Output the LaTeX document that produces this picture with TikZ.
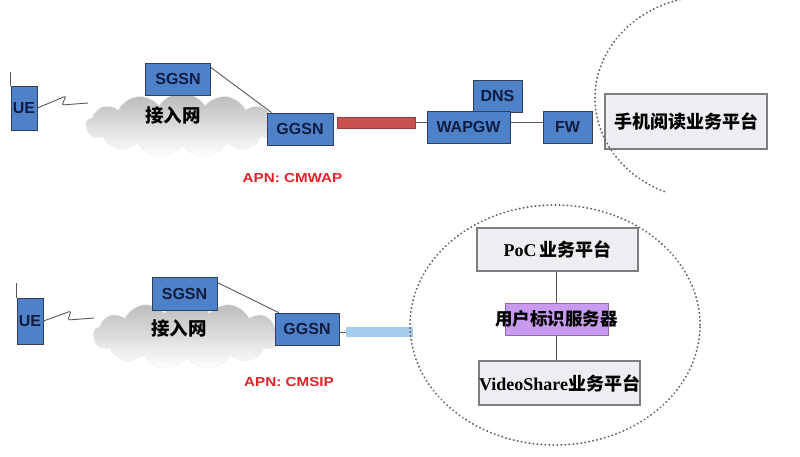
\documentclass[tikz,border=0pt]{standalone}
\usepackage{fontspec}
\setmainfont{Liberation Serif}
\setsansfont{Liberation Sans}
\newfontfamily\cjk{Noto Sans CJK SC}
\usetikzlibrary{shapes.symbols,calc}
\definecolor{boxblue}{RGB}{79,129,201}
\definecolor{boxtext}{RGB}{16,28,64}
\definecolor{boxline}{RGB}{50,62,90}
\definecolor{platfill}{RGB}{239,237,242}
\definecolor{platline}{RGB}{125,125,130}
\definecolor{purp}{RGB}{200,155,240}
\definecolor{redbar}{RGB}{200,80,78}
\definecolor{bluebar}{RGB}{165,205,238}
\definecolor{apnred}{RGB}{225,35,40}
\tikzset{
  nbox/.style={draw=boxline, line width=0.9pt, fill=boxblue, text=boxtext,
    font=\sffamily\bfseries\fontsize{16}{17}\selectfont, inner sep=0pt},
  plat/.style={draw=platline, line width=1.3pt, fill=platfill, inner sep=0pt,
    font=\bfseries\fontsize{18}{19}\selectfont},
  conn/.style={draw=gray!70!black, line width=0.9pt},
  cloudy/.style={cloud, cloud puffs=13, cloud puff arc=115, aspect=3,
    top color=gray!55, bottom color=white, draw=gray!15, inner sep=0pt},
  apn/.style={text=apnred, font=\sffamily\bfseries\fontsize{13}{14}\selectfont},
  cjklabel/.style={font=\cjk\bfseries\fontsize{18.5}{19}\selectfont},
  dotline/.style={draw=gray!75!black, line width=1.8pt, line cap=round, dash pattern=on 0.4pt off 3.6pt},
}
\begin{document}
\begin{tikzpicture}[x=1pt,y=-1pt]
\useasboundingbox[fill=white] (0,0) rectangle (800,456);

% ---------- top row ----------
\node[cloudy, minimum width=192pt, minimum height=64pt] (cloud1) at (182,125) {};
\node[cjklabel] (net1) at (173,115) {接入网};
\node[nbox, minimum width=26pt, minimum height=44pt] (ue1) at (24,108) {UE};
\draw[conn] (ue1.north west) -- ++(0,-14);
\draw[conn, rounded corners=2pt] (ue1.east) -- (66,96) -- (62,105) -- (88,103);
\node[nbox, minimum width=65pt, minimum height=32pt] (sgsn1) at (178,79) {SGSN};
\node[nbox, minimum width=66pt, minimum height=32pt] (ggsn1) at (300,129) {GGSN};
\draw[conn] ($(sgsn1.north east)+(0,5)$) -- ($(ggsn1.north west)+(5,0)$);
\node[fill=redbar, draw=redbar!80!black, line width=0.6pt, minimum width=78pt, minimum height=11pt, inner sep=0pt] (bar1) at (376,122.5) {};
\node[nbox, minimum width=49pt, minimum height=32pt] (dns) at (497.5,96) {DNS};
\node[nbox, minimum width=83pt, minimum height=32pt] (wapgw) at (468.5,127) {WAPGW};
\node[nbox, minimum width=49pt, minimum height=32pt] (fw) at (567.5,127) {FW};
\draw[conn] (bar1.east) -- (bar1.east -| wapgw.west);
\draw[conn] (wapgw.east |- bar1.east) -- (fw.west |- bar1.east);
\node[plat, minimum width=162pt, minimum height=55pt, font=\cjk\bfseries\fontsize{18}{19}\selectfont] (read) at (686,121.5) {手机阅读业务平台};
\draw[dotline] (710,98) ++(105:115pt and 102pt) arc[start angle=105, end angle=247, x radius=115pt, y radius=102pt];
\node[apn] (apn1) at (292.5,178) {\scalebox{1.17}[1]{APN: CMWAP}};

% ---------- bottom row ----------
\node[cloudy, minimum width=188pt, minimum height=68pt] (cloud2) at (187,335) {};
\node[cjklabel] (net2) at (179,328) {接入网};
\node[nbox, minimum width=26pt, minimum height=46pt] (ue2) at (30,321) {UE};
\draw[conn] (ue2.north west) -- ++(0,-15);
\draw[conn, rounded corners=2pt] (ue2.east) -- (71,311) -- (68,320) -- (94,318);
\node[nbox, minimum width=65pt, minimum height=33pt] (sgsn2) at (184.5,293.5) {SGSN};
\node[nbox, minimum width=64pt, minimum height=32pt] (ggsn2) at (307,329) {GGSN};
\draw[conn] ($(sgsn2.north east)+(0,6)$) -- ($(ggsn2.north west)+(4,0)$);
\node[fill=bluebar, minimum width=67pt, minimum height=10pt, inner sep=0pt] (bar2) at (379.5,332) {};
\draw[conn, line width=0.7pt] (ggsn2.east |- bar2.west) -- (bar2.west);
\draw[dotline] (555,325) ellipse[x radius=145pt, y radius=120pt];
\node[plat, minimum width=161pt, minimum height=43pt] (poc) at (557.5,249.5) {PoC\,{\cjk 业务平台}};
\node[plat, fill=purp, draw=purp!70!black, line width=1pt, minimum width=103pt, minimum height=32pt, text width=103pt, align=center] (uid) at (556.5,319) {\makebox[103pt]{\cjk\bfseries\fontsize{17.5}{18}\selectfont 用户标识服务器}};
\node[plat, minimum width=161pt, minimum height=44pt] (video) at (559.5,383) {VideoShare{\cjk 业务平台}};
\draw[conn] (poc.south -| uid) -- (uid.north);
\draw[conn] (uid.south) -- (video.north -| uid);
\node[apn] (apn2) at (289,382) {\scalebox{1.17}[1]{APN: CMSIP}};
\end{tikzpicture}
\end{document}
